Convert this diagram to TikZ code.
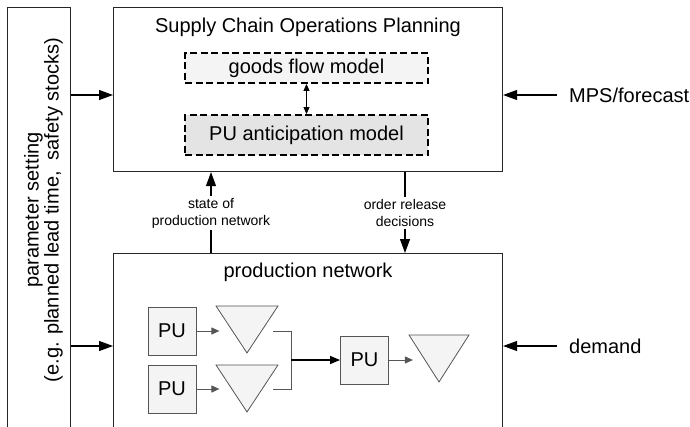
\documentclass[tikz,border=0pt]{standalone}
\usepackage{fontspec}
\setmainfont{Liberation Sans}
\usetikzlibrary{arrows.meta,positioning,shapes.geometric}
\definecolor{boxgray}{RGB}{244,244,244}
\definecolor{modelgray}{RGB}{228,228,228}
\definecolor{linegray}{RGB}{85,85,85}

\begin{document}
\begin{tikzpicture}[x=1pt,y=-1pt,font=\fontsize{20}{24}\selectfont,
  frame/.style={draw=black!85,line width=1.1pt,inner sep=0pt,anchor=north west},
  model/.style={draw,line width=1.9pt,dash pattern=on 7pt off 3.5pt,minimum width=243pt,inner sep=0pt},
  pubox/.style={draw=linegray,fill=boxgray,line width=0.8pt,minimum width=48pt,minimum height=48pt,inner sep=0pt},
  stock/.style={draw=linegray,fill=boxgray,line width=0.8pt,isosceles triangle,isosceles triangle stretches,
    shape border rotate=-90,minimum width=62pt,minimum height=47pt,inner sep=0pt,anchor=apex},
  arr/.style={line width=1.1pt,-{Triangle[length=14pt,width=10pt]}},
  sarr/.style={draw=linegray,line width=1pt,-{Triangle[length=8pt,width=7pt]}},
  small/.style={font=\fontsize{14}{17}\selectfont,align=center,inner sep=2pt}]
  \useasboundingbox (0,0) rectangle (690,426);
  \clip (0,0) rectangle (690,426);
  \node[frame,minimum width=63pt,minimum height=440pt] (param) at (7,7) {};
  \node[rotate=90,align=center,font=\fontsize{20}{20}\selectfont] (paramtext) at (43.5,210)
    {parameter setting\\(e.g. planned lead time,\ \ safety stocks)};
  \node[frame,minimum width=389pt,minimum height=164pt] (scop) at (113,7) {};
  \node (scoptitle) at (308,27) {Supply Chain Operations Planning};
  \node[model,fill=boxgray,minimum height=30pt] (goods) at (306.5,68) {goods flow model};
  \node[model,fill=modelgray,minimum height=40pt] (anticip) at (306.5,135) {PU anticipation model};
  \draw[line width=0.9pt,{Triangle[length=7pt,width=6pt]}-{Triangle[length=7pt,width=6pt]}] (goods) -- (anticip);
  \node[frame,minimum width=389pt,minimum height=200pt] (prod) at (113,253) {};
  \node (prodtitle) at (308,272) {production network};
  \node[small] (statelbl) at (211,213) {state of\\production network};
  \draw[line width=1.1pt] (prod.north -| statelbl) -- (statelbl);
  \draw[arr] (statelbl) -- (scop.south -| statelbl);
  \node[small] (orderlbl) at (405,213) {order release\\decisions};
  \draw[line width=1.1pt] (scop.south -| orderlbl) -- (orderlbl);
  \draw[arr] (orderlbl) -- (prod.north -| orderlbl);
  \draw[arr] (param.east |- 0,95) -- (scop.west |- 0,95);
  \draw[arr] (param.east |- 0,346) -- (prod.west |- 0,346);
  \node[anchor=west,inner xsep=12pt] (mps) at (557,95) {MPS/forecast};
  \draw[arr] (mps.west) -- (scop.east |- mps.west);
  \node[anchor=west,inner xsep=12pt] (demand) at (557,346) {demand};
  \draw[arr] (demand.west) -- (prod.east |- demand.west);
  \node[pubox] (pu1) at (172,331) {PU};
  \node[pubox] (pu2) at (172,389) {PU};
  \node[stock] (st1) at (247,354) {};
  \node[stock] (st2) at (247,413) {};
  \node[pubox] (pu3) at (364.5,360) {PU};
  \node[stock,minimum width=60pt] (st3) at (439,383) {};
  \draw[sarr] (pu1.east) -- ++(23,0);
  \draw[sarr] (pu2.east) -- ++(23,0);
  \coordinate (join) at (291,360);
  \draw[draw=linegray,line width=1pt] (273,331) -| (291,389) -- (273,389);
  \draw[line width=1.3pt,-{Triangle[length=10pt,width=8pt]}] (join) -- (pu3.west);
  \draw[sarr] (pu3.east) -- ++(24,0);
\end{tikzpicture}
\end{document}
